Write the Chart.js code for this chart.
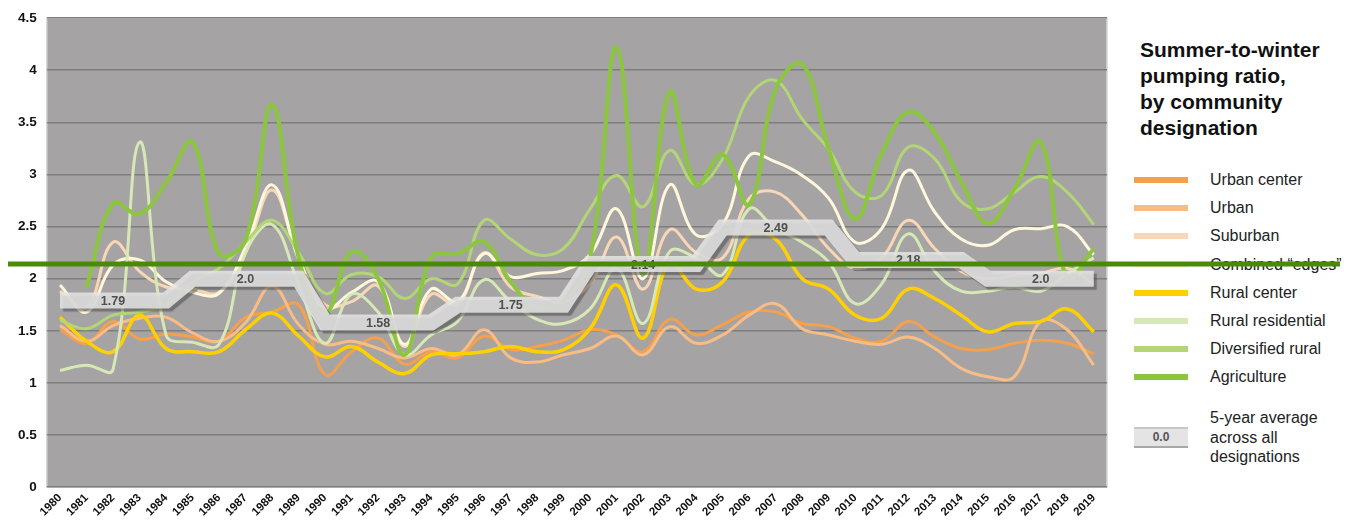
<!DOCTYPE html>
<html>
<head>
<meta charset="utf-8">
<script src="https://cdn.jsdelivr.net/npm/chart.js@4.4.0/dist/chart.umd.min.js"></script>
<style>
html,body{margin:0;padding:0;background:#fff;}
#wrap{position:relative;width:1351px;height:523px;overflow:hidden;font-family:Arial,"Liberation Sans",sans-serif;}
#c{position:absolute;left:0;top:0;z-index:2;}
#legend{position:absolute;left:0;top:0;width:1351px;height:523px;z-index:1;color:#222;}
.title{position:absolute;left:1140px;top:37px;font-weight:bold;font-size:21px;line-height:26px;color:#111;}
.item{position:absolute;left:1134px;height:20px;display:flex;align-items:center;font-size:16px;white-space:nowrap;}
.sw{width:54px;height:6px;margin-right:22px;flex:none;}
.avg{position:absolute;left:1134px;top:408px;display:flex;align-items:center;font-size:16px;line-height:19.5px;}
.avgbox{width:54px;height:17px;margin-right:22px;background:#e4e4e4;border-top:2px solid #c8c8c8;border-bottom:2px solid #a8a8a8;font-weight:bold;font-size:12px;color:#555;text-align:center;line-height:17px;flex:none;}
</style>
</head>
<body>
<div id="wrap">
  <div id="legend">
    <div class="title">Summer-to-winter<br>pumping ratio,<br>by community<br>designation</div>
    <div class="avg"><div class="avgbox">0.0</div><div>5-year average<br>across all<br>designations</div></div>
  </div>
  <canvas id="c" width="1351" height="523"></canvas>
</div>
<script>
// categories
var years = ['1980','1981','1982','1983','1984','1985','1986','1987','1988','1989',
             '1990','1991','1992','1993','1994','1995','1996','1997','1998','1999',
             '2000','2001','2002','2003','2004','2005','2006','2007','2008','2009',
             '2010','2011','2012','2013','2014','2015','2016','2017','2018','2019'];

// series
var urbanCenter = [1.51,1.38,1.59,1.42,1.47,1.44,1.40,1.63,1.68,1.75, 1.08,1.30,1.43,1.18,1.30,1.24,1.45,1.32,1.35,1.41, 1.51,1.46,1.30,1.61,1.46,1.56,1.68,1.68,1.57,1.54, 1.43,1.40,1.59,1.44,1.33,1.32,1.38,1.41,1.38,1.28];
var urban = [1.55,1.40,1.55,1.62,1.63,1.48,1.40,1.58,1.93,1.56, 1.37,1.40,1.33,1.24,1.33,1.27,1.51,1.24,1.20,1.27, 1.33,1.45,1.27,1.54,1.38,1.46,1.65,1.76,1.52,1.46, 1.40,1.37,1.44,1.33,1.14,1.06,1.06,1.59,1.51,1.17];
var suburban = [1.88,1.72,2.35,2.07,1.92,1.90,1.87,2.25,2.85,2.20, 1.75,1.78,1.93,1.35,1.85,1.75,2.25,1.92,1.83,1.78, 1.95,2.40,1.90,2.47,2.25,2.20,2.77,2.83,2.61,2.29, 2.10,2.20,2.56,2.29,2.07,2.00,2.03,2.05,2.10,1.95];
var combinedEdges = [1.94,1.68,2.13,2.18,1.97,1.87,1.86,2.30,2.90,2.19, 1.71,1.87,1.97,1.37,1.90,1.78,2.24,2.02,2.05,2.08, 2.23,2.67,2.00,2.90,2.42,2.52,3.18,3.12,2.99,2.77, 2.35,2.48,3.04,2.64,2.38,2.32,2.47,2.48,2.50,2.23];
var ruralCenter = [1.63,1.40,1.30,1.65,1.33,1.30,1.30,1.51,1.67,1.45, 1.25,1.35,1.20,1.09,1.27,1.28,1.30,1.35,1.30,1.32, 1.52,1.94,1.43,2.15,1.90,1.97,2.42,2.38,2.00,1.90, 1.65,1.62,1.90,1.81,1.65,1.49,1.57,1.59,1.71,1.49];
var ruralResidential = [1.12,1.17,1.13,3.31,1.46,1.39,1.37,2.25,2.52,1.95, 1.38,1.85,1.68,1.27,1.46,1.59,1.99,1.78,1.61,1.57, 1.71,2.10,1.57,2.26,2.20,2.04,2.67,2.48,2.35,2.16, 1.76,1.95,2.43,2.07,1.88,1.88,1.92,1.88,2.05,2.20];
var diversifiedRural = [1.60,1.52,1.65,1.68,1.75,1.97,2.10,2.35,2.56,2.25, 1.86,2.04,2.02,1.81,2.00,1.95,2.56,2.38,2.23,2.29, 2.67,2.99,2.69,3.23,2.90,3.15,3.75,3.90,3.53,3.24, 2.83,2.80,3.26,3.15,2.74,2.67,2.83,2.98,2.83,2.52];
var agriculture = [null,1.92,2.72,2.62,2.92,3.31,2.24,2.37,3.67,2.20, 1.66,2.26,2.00,1.27,2.20,2.24,2.35,1.97,1.72,1.78, 2.20,4.22,2.05,3.79,2.90,3.19,2.71,3.82,4.06,3.24, 2.57,3.20,3.60,3.40,2.93,2.53,2.86,3.31,2.00,2.29];

// 5-year averages across all designations
var avgValues = [1.79, 2.0, 1.58, 1.75, 2.14, 2.49, 2.18, 2.0];
var avgLabels = ['1.79','2.0','1.58','1.75','2.14','2.49','2.18','2.0'];

var seriesNames = ['Urban center','Urban','Suburban','Combined \u201cedges\u201d','Rural center','Rural residential','Diversified rural','Agriculture'];
var seriesData = [urbanCenter, urban, suburban, combinedEdges, ruralCenter, ruralResidential, diversifiedRural, agriculture];
var seriesColors = ['#f5a04c','#f8bd86','#f9d7b6','#fff7dc','#ffd000','#d5e8b6','#b2d675','#8cc63f'];
var seriesWidths = [3, 3, 3, 3, 3.5, 3, 3, 4];

var overlayValue = 2.14;

// legend rows
var leg = document.getElementById('legend');
for (var n = 0; n < seriesNames.length; n++) {
    var row = document.createElement('div');
    row.className = 'item';
    row.style.top = (170 + n * 28.2) + 'px';
    row.innerHTML = '<div class="sw" style="background:' + seriesColors[n] + '"></div><div>' + seriesNames[n] + '</div>';
    leg.appendChild(row);
}

var avgSeries = years.map(function (y, i) { return avgValues[Math.floor(i / 5)]; });

var datasets = [];
datasets.push({
    label: '5-year average', data: avgSeries,
    borderColor: 'rgba(228,228,228,0.86)', borderWidth: 16, tension: 0,
    borderJoinStyle: 'miter', borderCapStyle: 'butt', pointRadius: 0, order: 0
});
for (var k = 0; k < seriesNames.length; k++) {
    datasets.push({
        label: seriesNames[k], data: seriesData[k],
        borderColor: seriesColors[k], borderWidth: seriesWidths[k],
        tension: 0.4, pointRadius: 0, spanGaps: true, order: 9 - k
    });
}

var bgPlugin = {
    id: 'bg',
    beforeDraw: function (chart) {
        var a = chart.chartArea, ctx = chart.ctx;
        ctx.save();
        ctx.fillStyle = '#a5a3a4';
        ctx.fillRect(a.left, a.top, a.right - a.left, a.bottom - a.top);
        ctx.strokeStyle = '#d6d6d6';
        ctx.lineWidth = 1.5;
        ctx.strokeRect(a.left, a.top, a.right - a.left, a.bottom - a.top);
        ctx.restore();
    }
};

var bandPlugin = {
    id: 'band',
    beforeDatasetDraw: function (chart, args) {
        if (args.index !== 0) return;
        var ctx = chart.ctx;
        ctx.save();
        ctx.shadowColor = 'rgba(70,70,70,0.6)';
        ctx.shadowOffsetX = 3;
        ctx.shadowOffsetY = 3;
        ctx.shadowBlur = 1;
    },
    afterDatasetDraw: function (chart, args) {
        if (args.index !== 0) return;
        chart.ctx.restore();
    },
    afterDatasetsDraw: function (chart) {
        var ctx = chart.ctx, xs = chart.scales.x, ys = chart.scales.y;
        ctx.save();
        ctx.font = 'bold 12.5px Arial, "Liberation Sans", sans-serif';
        ctx.fillStyle = '#4f4f4f';
        ctx.textAlign = 'center';
        ctx.textBaseline = 'middle';
        for (var b = 0; b < avgValues.length; b++) {
            ctx.fillText(avgLabels[b], xs.getPixelForValue(b * 5 + 2), ys.getPixelForValue(avgValues[b]) + 1);
        }
        ctx.restore();
    },
    afterDraw: function (chart) {
        var ctx = chart.ctx, y = chart.scales.y.getPixelForValue(overlayValue);
        ctx.save();
        ctx.strokeStyle = '#4a8a08';
        ctx.lineWidth = 5;
        ctx.beginPath();
        ctx.moveTo(8, y);
        ctx.lineTo(chart.width - 11, y);
        ctx.stroke();
        ctx.restore();
    }
};

new Chart(document.getElementById('c'), {
    type: 'line',
    data: { labels: years, datasets: datasets },
    options: {
        responsive: false,
        animation: false,
        layout: { padding: { left: 8, right: 244, top: 14, bottom: 0 } },
        plugins: { legend: { display: false }, tooltip: { enabled: false } },
        scales: {
            x: {
                offset: true,
                grid: { display: false, drawTicks: false },
                border: { display: false },
                ticks: { autoSkip: false, maxRotation: 45, minRotation: 45, padding: 4,
                         color: '#111', font: { family: 'Arial', weight: 'bold', size: 11.5 } }
            },
            y: {
                min: 0, max: 4.5,
                grid: { color: '#7e7e7e', lineWidth: 1.5, drawTicks: false },
                border: { display: false },
                ticks: { stepSize: 0.5, padding: 10, color: '#111',
                         font: { family: 'Arial', weight: 'bold', size: 13.5 },
                         callback: function (v) { return String(v); } }
            }
        }
    },
    plugins: [bgPlugin, bandPlugin]
});
</script>
</body>
</html>
